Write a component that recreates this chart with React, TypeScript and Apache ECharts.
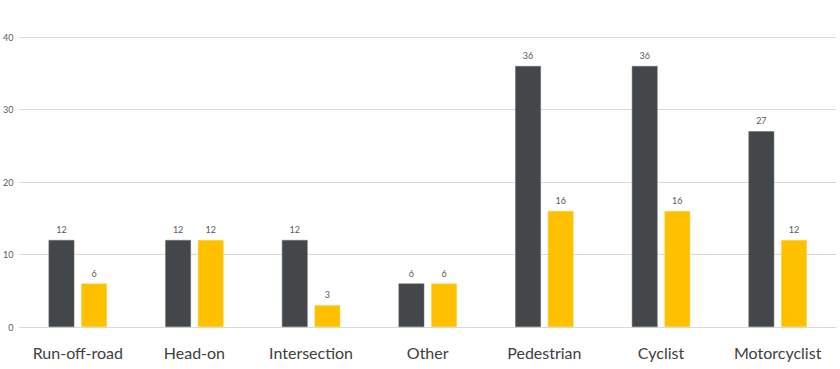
import React, { useEffect, useRef } from "react";
import * as echarts from "echarts";

const categories = ["Run-off-road", "Head-on", "Intersection", "Other", "Pedestrian", "Cyclist", "Motorcyclist"];
const seriesA = [12, 12, 12, 6, 36, 36, 27];
const seriesB = [6, 12, 3, 6, 16, 16, 12];

export default function App() {
  const ref = useRef<HTMLDivElement>(null);
  useEffect(() => {
    if (!ref.current) return;
    const chart = echarts.init(ref.current, null, { renderer: "svg" });
    const label = {
      show: true,
      position: "top" as const,
      distance: 6,
      color: "#595959",
      fontSize: 9,
      fontFamily: "Lato",
    };
    chart.setOption({
      animation: false,
      grid: { left: 18, right: 4, top: 37, bottom: 42, containLabel: false },
      xAxis: {
        type: "category",
        data: categories,
        axisLine: { show: true, lineStyle: { color: "#d9d9d9" } },
        axisTick: { show: false },
        axisLabel: { color: "#404040", fontSize: 16, fontFamily: "Lato", margin: 17, interval: 0 },
      },
      yAxis: {
        type: "value",
        min: 0,
        max: 40,
        interval: 10,
        axisLine: { show: false },
        axisTick: { show: false },
        splitLine: { lineStyle: { color: "#d9d9d9" } },
        axisLabel: { color: "#595959", fontSize: 9, fontFamily: "Lato", margin: 6 },
      },
      series: [
        {
          type: "bar",
          data: seriesA,
          barGap: "27%",
          barCategoryGap: "50%",
          itemStyle: { color: "#43474a", borderColor: "#6b6e70", borderWidth: 0.5 },
          label,
        },
        {
          type: "bar",
          data: seriesB,
          itemStyle: { color: "#ffc000", borderColor: "#ffd24d", borderWidth: 0.5 },
          label,
        },
      ],
    });
    return () => chart.dispose();
  }, []);
  return <div ref={ref} style={{ width: 840, height: 369, position: "absolute", left: 0, top: 0, background: "#fff" }} />;
}
